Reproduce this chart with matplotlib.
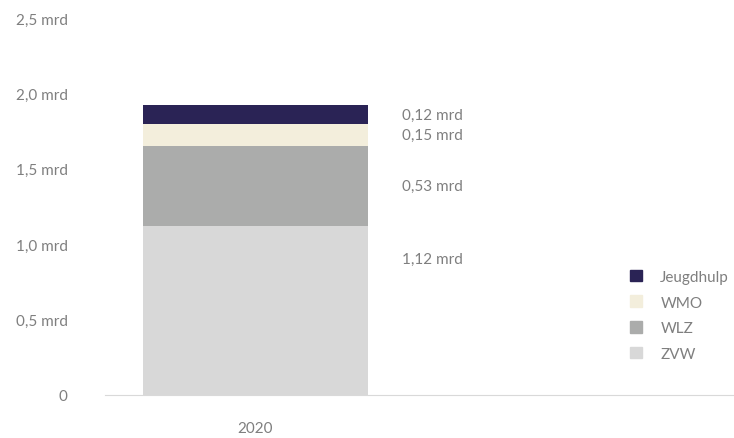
import matplotlib
matplotlib.use("Agg")
import matplotlib.pyplot as plt
from matplotlib.patches import Patch

plt.rcParams['font.family'] = ['Lato', 'DejaVu Sans']

year = '2020'
segments = ['ZVW', 'WLZ', 'WMO', 'Jeugdhulp']
amounts = [1.12, 0.53, 0.15, 0.12]
colors = ['#d8d8d8', '#abacab', '#f3eedc', '#2a2355']
yticks = [0, 0.5, 1.0, 1.5, 2.0, 2.5]
ytick_labels = ['0', '0,5 mrd', '1,0 mrd', '1,5 mrd', '2,0 mrd', '2,5 mrd']

grey = '#7f7f7f'
W, H = 734, 439
fig = plt.figure(figsize=(W / 100, H / 100), dpi=100)
ax = fig.add_axes([105 / W, 43 / H, 629 / W, (396 - 19) / H])

bottom = 0
label_y = []
for name, val, c in zip(segments, amounts, colors):
    ax.bar(0, val, width=0.75, bottom=bottom, color=c, label=name)
    label_y.append(bottom + val / 2)
    bottom += val
# the biggest segment carries its label lower down
label_y[0] = 0.9

for val, y in zip(amounts, label_y):
    ax.text(0.49, y, f'{val:.2f}'.replace('.', ',') + ' mrd', color=grey,
            fontsize=11, va='center', ha='left')

ax.set_xlim(-0.5, -0.5 + 629 / 300)
ax.set_ylim(0, 2.5)
ax.set_xticks([0])
ax.set_xticklabels([year])
ax.set_yticks(yticks)
ax.set_yticklabels(ytick_labels)
ax.tick_params(axis='both', length=0, labelsize=11, labelcolor=grey)
ax.tick_params(axis='y', pad=27)
ax.tick_params(axis='x', pad=19)
for s in ['top', 'right', 'left']:
    ax.spines[s].set_visible(False)
ax.spines['bottom'].set_color('#d9d9d9')

handles = [Patch(color=c, label=n) for n, c in zip(segments, colors)][::-1]
fig.legend(handles=handles, loc='upper left', bbox_to_anchor=(616 / W, 1 - 257 / H),
           frameon=False, fontsize=11, labelcolor=grey, handlelength=0.8,
           handleheight=0.8, handletextpad=1.2, labelspacing=0.75)

fig.savefig('out.png', dpi=100)
